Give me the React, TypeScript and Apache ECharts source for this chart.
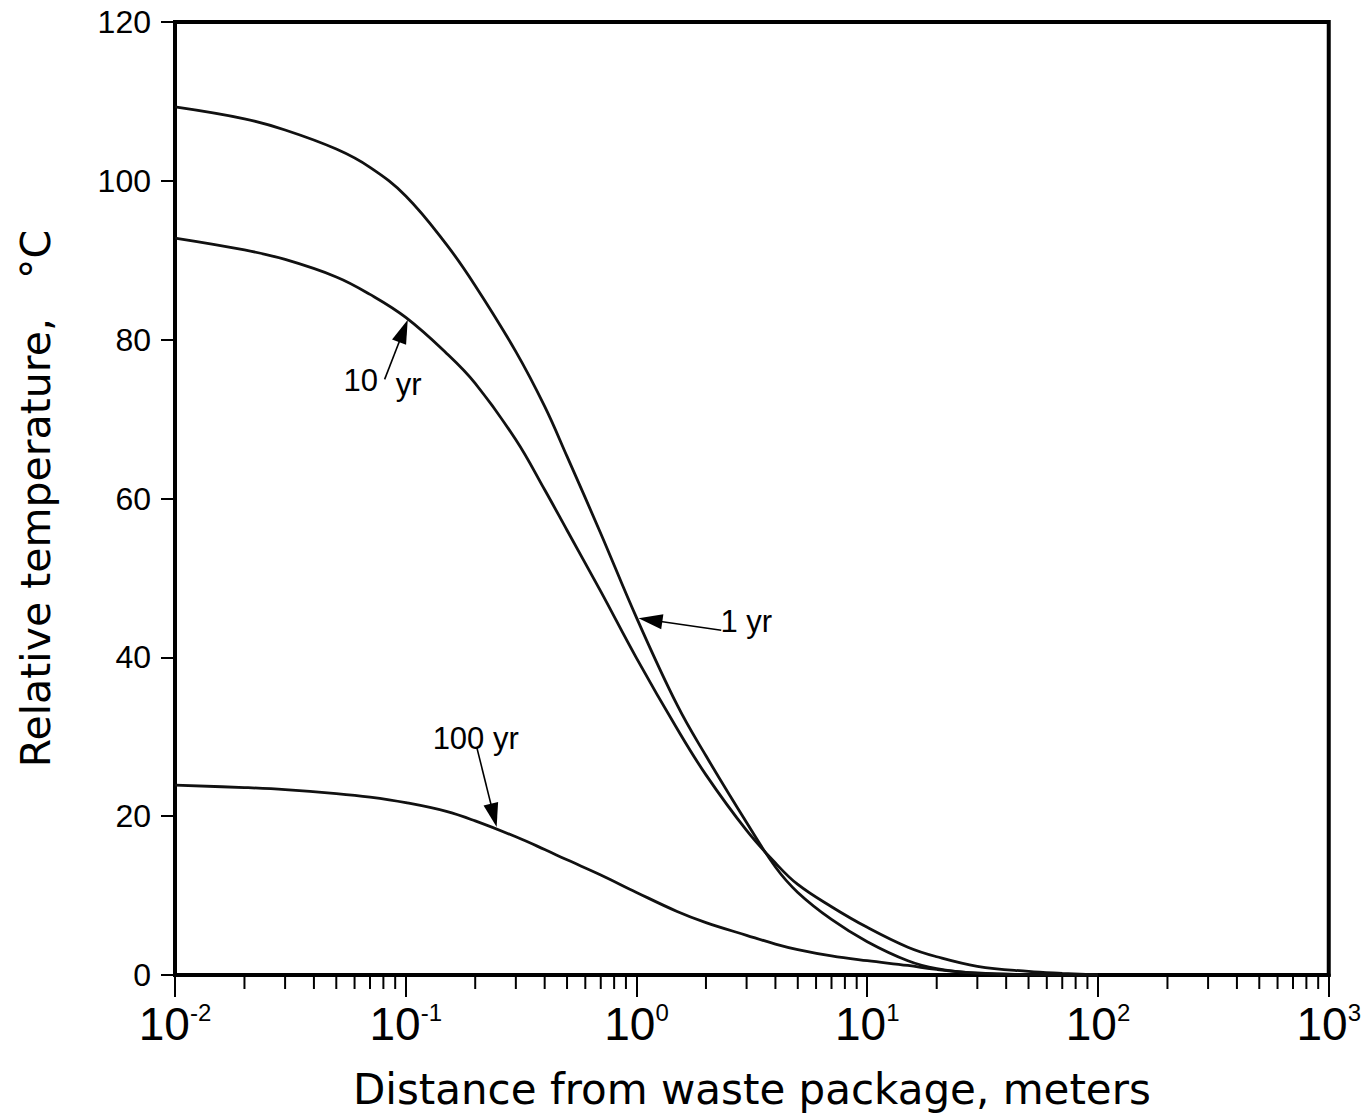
import React, { useEffect, useRef } from "react";
import * as echarts from "echarts";

// Distance from waste package (m)
const distances = [0.01, 0.02, 0.03, 0.05, 0.07, 0.1, 0.15, 0.2, 0.3, 0.4, 0.5, 0.7, 1, 1.5, 2, 3, 4, 5, 7, 10, 15, 20, 30, 50, 70, 100];
// Relative temperature (°C)
const temp1yr = [109.3, 107.8, 106.4, 104.0, 101.7, 98.1, 92.0, 86.8, 78.5, 71.6, 65.3, 55.6, 45.0, 34.0, 27.6, 19.2, 13.6, 10.4, 7.0, 4.2, 1.8, 0.8, 0.2, 0, 0, 0];
const temp10yr = [92.8, 91.3, 90.1, 87.9, 85.7, 82.8, 78.3, 74.5, 67.4, 61.1, 56.0, 48.3, 39.9, 31.0, 25.2, 18.2, 14.1, 11.4, 8.6, 6.0, 3.5, 2.3, 1.1, 0.45, 0.2, 0];
const temp100yr = [23.9, 23.6, 23.35, 22.85, 22.4, 21.7, 20.6, 19.4, 17.4, 15.8, 14.5, 12.6, 10.4, 8.0, 6.6, 5.0, 3.9, 3.2, 2.4, 1.8, 1.2, 0.7, 0.25, 0.05, 0, 0];

const yTicks = [0, 20, 40, 60, 80, 100, 120];
const decades = [0.01, 0.1, 1, 10, 100];
const minorMultipliers = [2, 3, 4, 5, 6, 7, 8, 9];

// Annotations: arrow tail -> arrow-head centre (data coords), and label pieces
const annotations = [
  { name: "1 yr", tail: [2.33, 43.4], head: [1.149, 44.7], texts: [{ t: "1 yr", at: [2.99, 44.5] }] },
  { name: "10 yr", tail: [0.081, 75.0], head: [0.0977, 81.1], texts: [{ t: "10", at: [0.0638, 74.8] }, { t: "yr", at: [0.103, 74.3] }] },
  { name: "100 yr", tail: [0.203, 28.7], head: [0.2406, 20.1], texts: [{ t: "100 yr", at: [0.201, 29.8] }] },
];

const seriesData = [
  { name: "1 yr", values: temp1yr },
  { name: "10 yr", values: temp10yr },
  { name: "100 yr", values: temp100yr },
];

const TITLE_FONT = "DejaVu Sans, Liberation Sans, Arial, sans-serif";
const LABEL_FONT = "Liberation Sans, Arial, sans-serif";

export default function App() {
  const ref = useRef<HTMLDivElement>(null);
  useEffect(() => {
    if (!ref.current) return;
    const chart = echarts.init(ref.current, undefined, { renderer: "svg" });
    const minorTicks: number[][] = [];
    decades.forEach((d) => minorMultipliers.forEach((m) => minorTicks.push([d * m, 0])));

    const lineSeries = seriesData.map((s) => {
      const ann = annotations.find((a) => a.name === s.name)!;
      return {
        type: "line",
        name: s.name,
        data: distances.map((x, i) => [x, s.values[i]]),
        showSymbol: false,
        smooth: 0.4,
        lineStyle: { color: "#111", width: 2.8 },
        silent: true,
        markLine: {
          silent: true,
          animation: false,
          label: { show: false },
          symbol: ["none", "triangle"],
          symbolSize: [15, 24],
          lineStyle: { color: "#000", width: 1.6, type: "solid" },
          data: [[{ coord: ann.tail }, { coord: ann.head }]],
        },
      };
    });

    const option: any = {
      animation: false,
      backgroundColor: "#fff",
      grid: { left: 175, right: 34, top: 22, bottom: 144, show: true, borderColor: "#000", borderWidth: 4 },
      xAxis: {
        type: "log",
        logBase: 10,
        min: 0.01,
        max: 1000,
        splitNumber: 5,
        name: "Distance from waste package, meters",
        nameLocation: "middle",
        nameGap: 93,
        nameTextStyle: { fontFamily: TITLE_FONT, fontSize: 42, color: "#000" },
        axisLine: { show: true, lineStyle: { color: "#000", width: 4 } },
        axisTick: { show: true, length: 22, lineStyle: { color: "#000", width: 2 } },
        minorTick: { show: false },
        splitLine: { show: false },
        axisLabel: {
          margin: 25,
          formatter: (v: number) => `{b|10}{s|${Math.round(Math.log10(v))}}`,
          rich: {
            b: { fontFamily: LABEL_FONT, fontSize: 46, lineHeight: 48, color: "#000" },
            s: { fontFamily: LABEL_FONT, fontSize: 24, lineHeight: 20, verticalAlign: "top", color: "#000" },
          },
        },
      },
      yAxis: {
        type: "value",
        min: yTicks[0],
        max: yTicks[yTicks.length - 1],
        interval: 20,
        name: "Relative temperature,   °C",
        nameLocation: "middle",
        nameGap: 119,
        nameTextStyle: { fontFamily: TITLE_FONT, fontSize: 41, color: "#000" },
        axisLine: { show: true, lineStyle: { color: "#000", width: 4 } },
        axisTick: { show: true, length: 14, lineStyle: { color: "#000", width: 2 } },
        splitLine: { show: false },
        axisLabel: { margin: 24, fontFamily: LABEL_FONT, fontSize: 32, color: "#000" },
      },
      series: [
        ...lineSeries,
        {
          type: "custom",
          name: "minorTicks",
          silent: true,
          clip: false,
          data: minorTicks,
          renderItem: (params: any, api: any) => {
            const p = api.coord([api.value(0), 0]);
            return {
              type: "line",
              shape: { x1: p[0], y1: p[1], x2: p[0], y2: p[1] + 14 },
              style: { stroke: "#000", lineWidth: 2 },
            };
          },
        },
      ],
    };
    chart.setOption(option);

    const graphics: any[] = [];
    annotations.forEach((a) => {
      a.texts.forEach((tx) => {
        const p = chart.convertToPixel({ gridIndex: 0 }, tx.at) as number[];
        graphics.push({
          type: "text",
          x: p[0],
          y: p[1],
          style: {
            text: tx.t,
            fontFamily: LABEL_FONT,
            fontSize: 31,
            fill: "#000",
            align: "center",
            verticalAlign: "middle",
          },
          silent: true,
        });
      });
    });
    chart.setOption({ graphic: graphics });

    return () => chart.dispose();
  }, []);
  return (
    <div
      ref={ref}
      style={{ position: "fixed", left: 0, top: 0, width: 1364, height: 1119, background: "#fff" }}
    />
  );
}
